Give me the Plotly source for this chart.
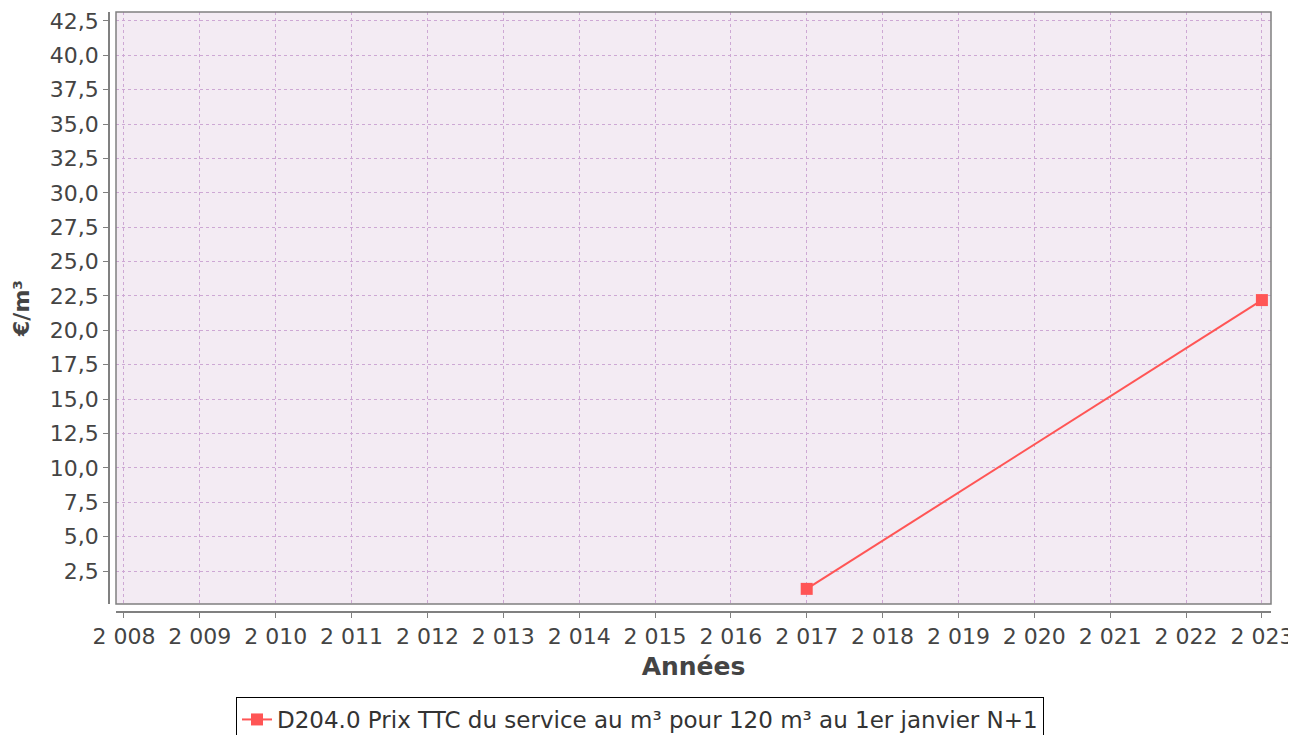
import plotly.graph_objects as go

years = [2017, 2023]
values = [1.2, 22.2]
series_name = "D204.0 Prix TTC du service au m³ pour 120 m³ au 1er janvier N+1"
x_ticks = list(range(2008, 2024))
y_ticks = [2.5 * i for i in range(1, 18)]

# page has an 8px body margin, so the figure is drawn 8px smaller
W, H = 1288, 727
L, R, T, B = 101, 25, 4, 123
pw = W - L - R
ph = H - T - B

fig = go.Figure()
fig.add_trace(go.Scatter(
    x=years, y=values, mode="lines+markers", name=series_name,
    line=dict(color="#FF5555", width=2),
    marker=dict(symbol="square", size=12, color="#FF5555"),
))

font = "DejaVu Sans"
tickfont = dict(family=font, size=22, color="#444444")
grid = "rgb(205,168,212)"
fig.update_layout(
    width=W, height=H,
    margin=dict(l=L, r=R, t=T, b=B, pad=0, autoexpand=False),
    paper_bgcolor="white",
    plot_bgcolor="#F3EBF3",
    separators=", ",
    showlegend=True,
    legend=dict(
        orientation="h", x=(640 - 8) / W, xanchor="center", xref="container",
        y=(H - 689) / H, yanchor="top", yref="container",
        bgcolor="white", bordercolor="black", borderwidth=1,
        font=dict(family=font, size=23, color="#333333"),
        itemwidth=30,
    ),
    xaxis=dict(
        domain=[7 / pw, 1], anchor="free", position=0,
        range=[2007.895, 2023.12], automargin=False,
        tickmode="array", tickvals=x_ticks,
        ticktext=[f"{v // 1000} {v % 1000:03d}" for v in x_ticks],
        showline=True, linecolor="#808080", linewidth=1.5,
        ticks="outside", ticklen=5, tickcolor="#808080",
        showgrid=True, gridcolor=grid, griddash="3px,3px", gridwidth=1,
        zeroline=False, tickfont=tickfont,
        title=dict(text="<b>Années</b>", font=dict(family=font, size=25, color="#444444"), standoff=8),
    ),
    yaxis=dict(
        domain=[8 / ph, 1], anchor="free", position=0,
        range=[0.1, 43.15], automargin=False,
        tickmode="array", tickvals=y_ticks,
        ticktext=[f"{v:.1f}".replace(".", ",") for v in y_ticks],
        showline=True, linecolor="#808080", linewidth=1.5,
        ticks="outside", ticklen=5, tickcolor="#808080",
        showgrid=True, gridcolor=grid, griddash="3px,3px", gridwidth=1,
        zeroline=False, tickfont=tickfont,
        title=dict(text="<b>€/m³</b>", font=dict(family=font, size=22, color="#444444"), standoff=13),
    ),
)
fig.add_shape(type="rect", xref="x domain", yref="y domain", x0=0, x1=1, y0=0, y1=1,
              line=dict(color="#808080", width=1.5), fillcolor="rgba(0,0,0,0)", layer="above")
fig.write_html("out.html")
